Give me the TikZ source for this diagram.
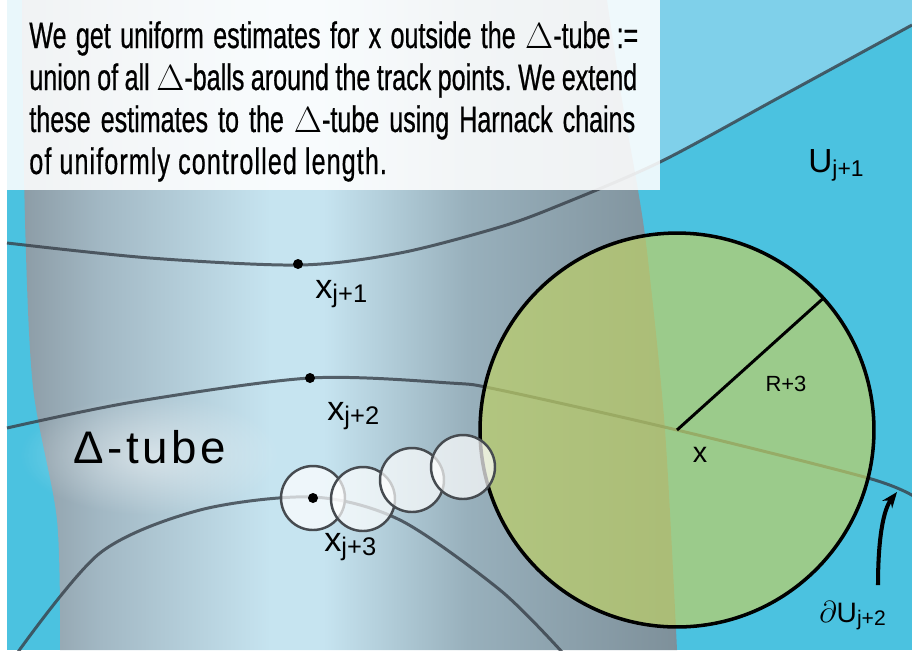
\documentclass[tikz,border=0pt]{standalone}
\usepackage{fontspec}
\setmainfont{Liberation Sans}
\newfontfamily\narrowfont[FakeStretch=0.68, FakeBold=0.6]{Liberation Sans}
\newfontfamily\spacedfont[LetterSpace=8]{Liberation Sans}
\usetikzlibrary{arrows.meta, positioning, fadings}
\definecolor{skyblue}{RGB}{75,194,224}
\definecolor{paleblue}{RGB}{127,208,234}
\definecolor{trackgray}{RGB}{55,63,72}
\definecolor{ballgreen}{RGB}{190,208,104}
\definecolor{chainring}{RGB}{70,75,80}
\definecolor{tubeedge}{RGB}{140,156,166}
\definecolor{tubemid}{RGB}{162,184,196}
\definecolor{tubelight}{RGB}{198,228,240}
\definecolor{tubeshadow}{RGB}{152,176,188}
\definecolor{tubedark}{RGB}{126,144,154}
\pgfdeclarehorizontalshading{tubeshade}{100bp}{color(0bp)=(tubeedge); color(25bp)=(tubeedge); color(31bp)=(tubemid); color(44bp)=(tubelight); color(48bp)=(tubelight); color(59bp)=(tubeshadow); color(75bp)=(tubedark); color(100bp)=(tubedark)}
\tikzfading[name=glowfade, inner color=transparent!0, outer color=transparent!100]
\newcommand{\lowsub}[2]{\raisebox{-0.12em}{\fontsize{#1}{#1}\selectfont #2}}
\frenchspacing

\begin{document}
\begin{tikzpicture}[x=0.02cm, y=-0.02cm,
    track/.style={trackgray, line width=1.7pt, opacity=0.8},
    harnack/.style={circle, draw=chainring, line width=1.4pt, fill=white, fill opacity=0.7, minimum size=1.28cm, inner sep=0pt, outer sep=0pt},
    dot/.style={circle, fill=black, minimum size=0.2cm, inner sep=0pt},
    lbl/.style={anchor=base west, inner sep=0pt, font=\fontsize{19.5}{20}\selectfont},
    boxtext/.style={anchor=base west, inner sep=0pt, font=\narrowfont\fontsize{21}{24}\selectfont}]
    \useasboundingbox (0,0) rectangle (912,650);
    \fill[white] (0,0) rectangle (912,650);
    \fill[skyblue] (7,0) rectangle (912,650);

    % lighter side of the boundary of U_{j+1}
    \fill[paleblue] plot[smooth] coordinates {(400,253) (500,227) (560,205) (660,162) (780,97) (912,25)} -- (912,0) -- (400,0) -- cycle;

    % the tube
    \shade[shading=tubeshade] plot[smooth] coordinates {(22,0) (25,220) (33,387) (57,520) (60,650)}
        -- plot[smooth] coordinates {(677,650) (665,430) (648,260) (638,190) (622,100) (607,0)} -- cycle;
    \fill[white, opacity=0.5, path fading=glowfade] (150,455) ellipse [x radius=130, y radius=60];

    % tracks
    \draw[track] plot[smooth] coordinates {(7,243) (150,258) (300,265) (400,253) (500,227) (560,205) (660,162) (780,97) (912,25)};
    \draw[track] plot[smooth] coordinates {(7,428) (133,402) (310,378) (450,383) (500,390) (677,430) (868,478) (915,497)};
    \draw[track] plot[smooth] coordinates {(18,652) (100,553) (200,510) (313,497) (400,520) (500,590) (562,652)};

    % note
    \fill[white, opacity=0.88] (7,0) rectangle (660,190);
    \foreach \i/\ty/\linewd/\txt in {1/48/12.18cm/{We get uniform estimates for x outside the $\Delta$-tube\,:=},
        2/90/12.16cm/{union of all $\Delta$-balls around the track points. We extend},
        3/132/12.12cm/{these estimates to the $\Delta$-tube using Harnack chains}}
        \node[boxtext] (note\i) at (29,\ty) {\makebox[\linewd][s]{\txt}};
    \node[boxtext] (note4) at (29,174) {\addfontfeature{LetterSpace=3}of uniformly controlled length.};

    % the big ball around x
    \node[circle, draw=black, line width=2pt, fill=ballgreen, fill opacity=0.7, minimum size=7.88cm, inner sep=0pt, outer sep=0pt] (ball) at (677,430) {};
    \draw[line width=1.7pt] (ball.center) -- (ball.42);
    \node[font=\fontsize{12.5}{14}\selectfont] (radlab) at (786,384) {R+3};
    \node[font=\fontsize{16.4}{18}\selectfont] (xlab) at (700,455) {x};

    % Harnack chain
    \foreach \i/\cx/\cy in {1/313/498, 2/363/499, 3/412/480, 4/463/467}
        \node[harnack] (h\i) at (\cx,\cy) {};

    \node[dot] (p1) at (298,264) {};
    \node[dot] (p2) at (310,378) {};
    \node[dot] (p3) at (313,498) {};

    \node[lbl] (x1) at (315,298) {x\lowsub{14.5}{j+1}};
    \node[lbl] (x2) at (327,420) {x\lowsub{14.5}{j+2}};
    \node[lbl] (x3) at (324,551) {x\lowsub{14.5}{j+3}};
    \node[lbl, font=\spacedfont\fontsize{26}{28}\selectfont] (tubelab) at (73,463) {Δ-tube};
    \node[lbl, font=\fontsize{19}{20}\selectfont] (ulab) at (808,172) {U\lowsub{13}{j+1}};
    \node[lbl, font=\fontsize{16}{18}\selectfont] (dulab) at (819,622) {$\partial$U\lowsub{12}{j+2}};

    \coordinate (tail) at (878,585);
    \coordinate (tip) at (897,492);
    \draw[line width=2.3pt, -{Stealth[length=9pt, width=7pt]}] (tail) .. controls (878,540) and (883,510) .. (tip);
\end{tikzpicture}
\end{document}
